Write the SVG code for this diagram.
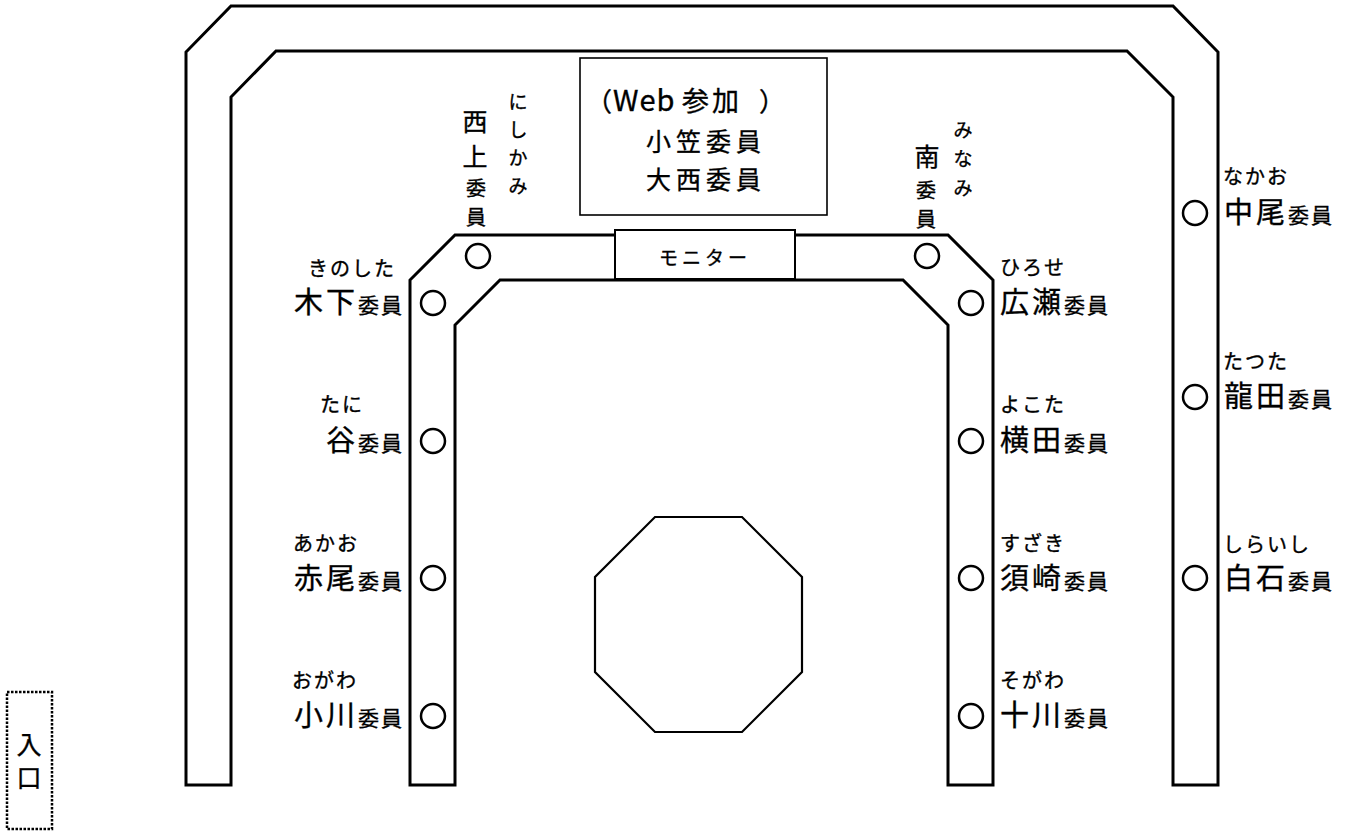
<svg xmlns="http://www.w3.org/2000/svg" width="1351" height="832" viewBox="0 0 1351 832">
<style>
text{font-family:"Noto Sans CJK JP","Noto Sans CJK SC",sans-serif;fill:#000;stroke:#000;stroke-width:0.35}
.wall{fill:#fff;stroke:#000;stroke-width:3;stroke-linejoin:miter}
.seat{fill:none;stroke:#000;stroke-width:2.5}
.big{font-size:29px;letter-spacing:3px}
.small{font-size:21px;letter-spacing:2px}
.kana{font-size:20px;letter-spacing:2px}
.vbig{font-size:25px}
.vsmall{font-size:20px}
.vkana{font-size:19px}
.box{font-size:25px;letter-spacing:5px}
</style>
<rect width="1351" height="832" fill="#fff"/>
<g id="outer-table">
<path class="wall" d="M186,785 L186,52 L231,6 L1173,6 L1218,52 L1218,785 L1173,785 L1173,97 L1127,51 L276,51 L231,97 L231,785 Z"/>
</g>
<g id="inner-table">
<path class="wall" d="M410,785 L410,280 L455,235 L948,235 L993,280 L993,785 L948,785 L948,325 L903,280 L500,280 L455,325 L455,785 Z"/>
</g>
<g id="monitor">
<rect x="615" y="230" width="180" height="49" fill="#fff" stroke="#000" stroke-width="2"/>
<text x="705" y="265" text-anchor="middle" style="font-size:19px;letter-spacing:4px">モニター</text>
</g>
<g id="web-box">
<rect x="580" y="58" width="247" height="157" fill="#fff" stroke="#000" stroke-width="1.6"/>
<text y="111" style="font-size:26px"><tspan x="586">（</tspan><tspan x="613" style="font-size:29px;letter-spacing:1px">Web</tspan><tspan x="682" style="font-size:27px;letter-spacing:3px">参加</tspan><tspan x="759">）</tspan></text>
<text class="box" x="706" y="151" text-anchor="middle">小笠委員</text>
<text class="box" x="706" y="189" text-anchor="middle">大西委員</text>
</g>
<g id="table-center">
<polygon points="655,517 742,517 802,577 802,672 742,732 655,732 595,672 595,577" fill="none" stroke="#000" stroke-width="2.2"/>
</g>
<g id="entrance">
<rect x="7" y="692" width="45" height="137" fill="none" stroke="#000" stroke-width="2.5" stroke-dasharray="2.5,1.5"/>
<text x="29" y="754" text-anchor="middle" style="font-size:25px">入</text>
<text x="29" y="787" text-anchor="middle" style="font-size:25px">口</text>
</g>
<g id="seat-nishigami">
<circle class="seat" cx="478" cy="256" r="12"/>
<text class="vbig" x="475" y="131" text-anchor="middle">西</text>
<text class="vbig" x="475" y="166" text-anchor="middle">上</text>
<text class="vsmall" x="476" y="196" text-anchor="middle">委</text>
<text class="vsmall" x="476" y="225" text-anchor="middle">員</text>
<text class="vkana" x="518" y="109" text-anchor="middle">に</text>
<text class="vkana" x="518" y="137" text-anchor="middle">し</text>
<text class="vkana" x="518" y="165" text-anchor="middle">か</text>
<text class="vkana" x="518" y="193" text-anchor="middle">み</text>
</g>
<g id="seat-minami">
<circle class="seat" cx="927" cy="256" r="12"/>
<text class="vbig" x="927" y="166" text-anchor="middle">南</text>
<text class="vsmall" x="926" y="198" text-anchor="middle">委</text>
<text class="vsmall" x="926" y="227" text-anchor="middle">員</text>
<text class="vkana" x="963" y="137" text-anchor="middle">み</text>
<text class="vkana" x="963" y="166" text-anchor="middle">な</text>
<text class="vkana" x="963" y="195" text-anchor="middle">み</text>
</g>
<g id="seat-kinoshita">
<circle class="seat" cx="433" cy="303" r="12"/>
<text class="kana" x="308" y="276">きのした</text>
<text x="404" y="313" text-anchor="end"><tspan class="big">木下</tspan><tspan class="small">委員</tspan></text>
</g>
<g id="seat-tani">
<circle class="seat" cx="433" cy="441" r="12"/>
<text class="kana" x="320" y="412">たに</text>
<text x="404" y="451" text-anchor="end"><tspan class="big">谷</tspan><tspan class="small">委員</tspan></text>
</g>
<g id="seat-akao">
<circle class="seat" cx="433" cy="578" r="12"/>
<text class="kana" x="293" y="551">あかお</text>
<text x="404" y="589" text-anchor="end"><tspan class="big">赤尾</tspan><tspan class="small">委員</tspan></text>
</g>
<g id="seat-ogawa">
<circle class="seat" cx="433" cy="716" r="12"/>
<text class="kana" x="292" y="688">おがわ</text>
<text x="404" y="726" text-anchor="end"><tspan class="big">小川</tspan><tspan class="small">委員</tspan></text>
</g>
<g id="seat-hirose">
<circle class="seat" cx="971" cy="303" r="12"/>
<text class="kana" x="1000" y="275">ひろせ</text>
<text x="1000" y="313"><tspan class="big">広瀬</tspan><tspan class="small">委員</tspan></text>
</g>
<g id="seat-yokota">
<circle class="seat" cx="971" cy="441" r="12"/>
<text class="kana" x="1000" y="412">よこた</text>
<text x="1000" y="451"><tspan class="big">横田</tspan><tspan class="small">委員</tspan></text>
</g>
<g id="seat-suzaki">
<circle class="seat" cx="971" cy="578" r="12"/>
<text class="kana" x="1000" y="551">すざき</text>
<text x="1000" y="589"><tspan class="big">須崎</tspan><tspan class="small">委員</tspan></text>
</g>
<g id="seat-sogawa">
<circle class="seat" cx="971" cy="716" r="12"/>
<text class="kana" x="1000" y="688">そがわ</text>
<text x="1000" y="726"><tspan class="big">十川</tspan><tspan class="small">委員</tspan></text>
</g>
<g id="seat-nakao">
<circle class="seat" cx="1195" cy="213" r="12"/>
<text class="kana" x="1223" y="184">なかお</text>
<text x="1224" y="223"><tspan class="big">中尾</tspan><tspan class="small">委員</tspan></text>
</g>
<g id="seat-tatsuta">
<circle class="seat" cx="1195" cy="397" r="12"/>
<text class="kana" x="1223" y="369">たつた</text>
<text x="1224" y="407"><tspan class="big">龍田</tspan><tspan class="small">委員</tspan></text>
</g>
<g id="seat-shiraishi">
<circle class="seat" cx="1195" cy="578" r="12"/>
<text class="kana" x="1223" y="552">しらいし</text>
<text x="1224" y="589"><tspan class="big">白石</tspan><tspan class="small">委員</tspan></text>
</g>
<g id="connectors"/>
</svg>
